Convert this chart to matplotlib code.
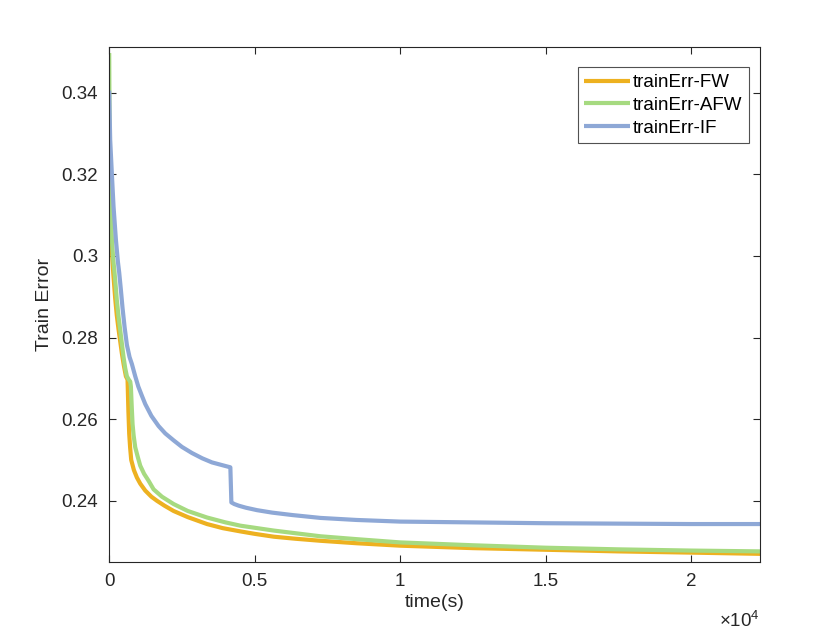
import matplotlib
matplotlib.use("Agg")
import matplotlib.pyplot as plt
from matplotlib.ticker import FixedLocator

plt.rcParams['font.family'] = ['Liberation Sans', 'DejaVu Sans']
plt.rcParams['mathtext.fontset'] = 'custom'
plt.rcParams['mathtext.rm'] = 'Liberation Sans'
plt.rcParams['mathtext.it'] = 'Liberation Sans'

# ---- data (time in seconds, train error) ----
t_fw = [0, 23, 69, 138, 207, 260, 321, 380, 436, 500, 574, 631, 660, 688, 720, 757,
        850, 952, 1067, 1239, 1450, 1641, 1900, 2214, 2700, 3362, 3900, 4509, 5000,
        5657, 6400, 7262, 8500, 10000, 12500, 15000, 17500, 20000, 22380]
err_fw = [0.318, 0.3121, 0.3040, 0.2959, 0.2895, 0.2855, 0.2820, 0.2790, 0.2761, 0.2733,
          0.2705, 0.2697, 0.2620, 0.2564, 0.2530, 0.2500, 0.2475, 0.2457, 0.2442, 0.2425,
          0.2410, 0.2400, 0.2388, 0.2375, 0.2360, 0.2343, 0.2333, 0.2325, 0.2319,
          0.2312, 0.2307, 0.2302, 0.2296, 0.2290, 0.2284, 0.2280, 0.2276, 0.2273, 0.2270]

t_afw = [0, 10, 30, 60, 92, 140, 184, 230, 264, 320, 379, 436, 493, 550, 608, 680, 723,
         745, 775, 803, 840, 895, 980, 1067, 1200, 1354, 1526, 1813, 2214, 2700, 3362,
         4000, 4509, 5657, 7262, 8500, 10000, 12500, 15000, 17500, 20000, 22380]
err_afw = [0.3497, 0.3350, 0.3210, 0.3110, 0.3040, 0.2990, 0.2959, 0.2920, 0.2890, 0.2852,
           0.2818, 0.2785, 0.2752, 0.2725, 0.2705, 0.2696, 0.2692, 0.2680, 0.2630, 0.2588,
           0.2560, 0.2531, 0.2508, 0.2486, 0.2466, 0.2449, 0.2428, 0.2410, 0.2392, 0.2375,
           0.2359, 0.2347, 0.2339, 0.2327, 0.2313, 0.2306, 0.2298, 0.2291, 0.2285, 0.2281,
           0.2278, 0.2276]

t_if = [0, 34, 92, 149, 230, 300, 344, 400, 459, 530, 608, 700, 780, 895, 1000, 1120,
        1239, 1450, 1698, 1928, 2215, 2500, 2845, 3200, 3534, 3900, 4165, 4200, 4300,
        4452, 4700, 5083, 5600, 6300, 7262, 8500, 10000, 12500, 15000, 17500, 20000, 22380]
err_if = [0.3405, 0.3284, 0.3200, 0.3121, 0.3040, 0.2985, 0.2959, 0.2918, 0.2872, 0.2825,
          0.2782, 0.2752, 0.2735, 0.2705, 0.2680, 0.2658, 0.2637, 0.2608, 0.2583, 0.2565,
          0.2548, 0.2532, 0.2517, 0.2504, 0.2494, 0.2487, 0.2482, 0.2396, 0.2392,
          0.2388, 0.2383, 0.2377, 0.2371, 0.2365, 0.2358, 0.2353, 0.2349, 0.2347, 0.2345,
          0.2344, 0.2343, 0.2343]

labels = ['trainErr-FW', 'trainErr-AFW', 'trainErr-IF']
colors = ['#EDB120', '#A6DA80', '#8EA8D6']

x_ticks = [0, 5000, 10000, 15000, 20000]
x_ticklabels = ['0', '0.5', '1', '1.5', '2']
y_ticks = [0.24, 0.26, 0.28, 0.30, 0.32, 0.34]
y_ticklabels = ['0.24', '0.26', '0.28', '0.3', '0.32', '0.34']

axc = '#262626'

fig = plt.figure(figsize=(8.4, 6.31), dpi=100)
ax = fig.add_axes([0.13, 0.11, 0.775, 0.815])

for t, e, lab, c in zip([t_fw, t_afw, t_if], [err_fw, err_afw, err_if], labels, colors):
    ax.plot(t, e, color=c, lw=3.0, label=lab, solid_joinstyle='round',
            solid_capstyle='butt')

ax.set_xlim(0, 22380)
ax.set_ylim(0.2251, 0.3511)
ax.xaxis.set_major_locator(FixedLocator(x_ticks))
ax.set_xticklabels(x_ticklabels)
ax.yaxis.set_major_locator(FixedLocator(y_ticks))
ax.set_yticklabels(y_ticklabels)

ax.tick_params(direction='in', top=True, right=True, length=5, width=0.8,
               labelsize=13.5, colors=axc, pad=8)
for s in ax.spines.values():
    s.set_color(axc)
    s.set_linewidth(0.8)

ax.set_xlabel('time(s)', fontsize=14, color=axc, labelpad=3)
ax.set_ylabel('Train Error', fontsize=14, color=axc, labelpad=6)

ax.text(1.0, -0.095, r'$\times10^{4}$', transform=ax.transAxes, ha='right', va='top',
        fontsize=13.5, color=axc)

leg = ax.legend(loc='upper right', bbox_to_anchor=(0.983, 0.961), fontsize=13.5,
                frameon=True, fancybox=False, edgecolor=axc, handlelength=2.45,
                handletextpad=0.15, labelspacing=0.3, borderpad=0.35,
                borderaxespad=0.0)
leg.get_frame().set_linewidth(0.8)
for txt in leg.get_texts():
    txt.set_color('#000000')

fig.savefig('out.png', dpi=100)
